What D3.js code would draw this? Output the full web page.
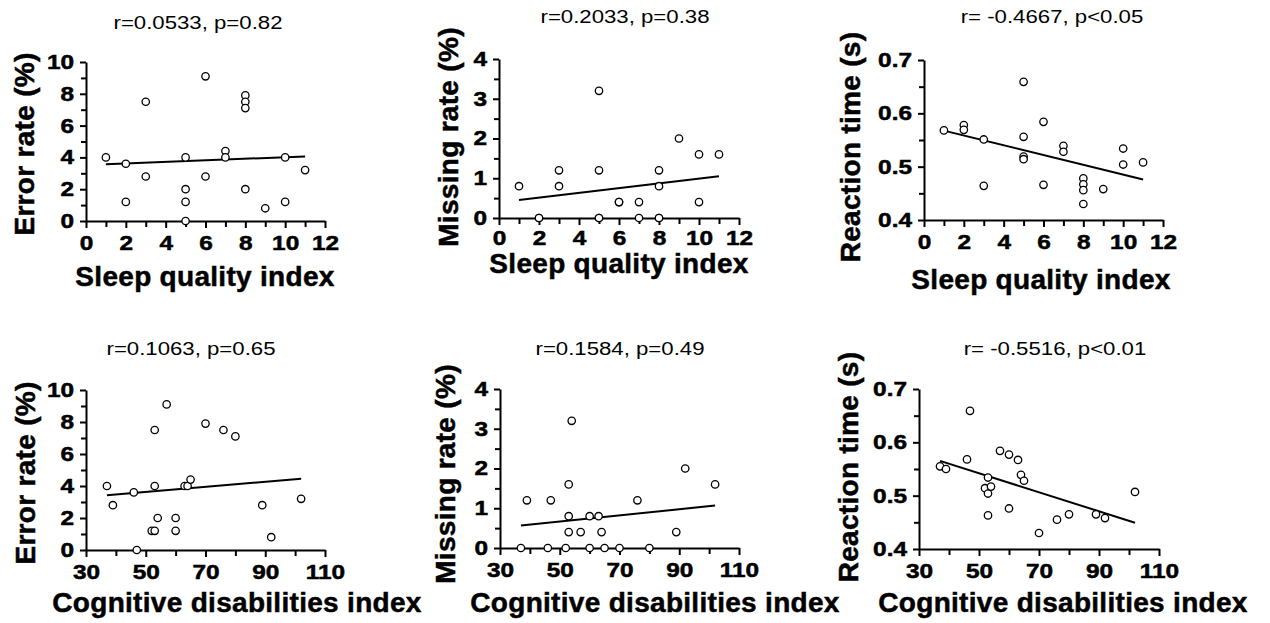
<!DOCTYPE html>
<html>
<head>
<meta charset="utf-8">
<script src="https://cdn.jsdelivr.net/npm/d3@7"></script>
<style>
  body { margin: 0; background: #fff; }
  text { font-family: Arial, "Liberation Sans", sans-serif; fill: #000; }
</style>
</head>
<body>
<div id="chart"></div>
<script>
var width = 1270;
var height = 623;

// subject scores, sorted by index
var sqiScores = [1, 2, 2, 3, 3, 5, 5, 5, 5, 6, 6, 7, 7, 8, 8, 8, 8, 9, 10, 10, 11];
var cdiScores = [37, 39, 46, 47, 52, 53, 53, 53, 54, 57, 60, 60, 63, 64, 65, 70, 76, 80, 89, 92, 102];

var sqiError = [4.0, 3.6, 1.2, 7.5, 2.8, 4.0, 2.0, 1.2, 0, 9.1, 2.8, 4.4, 4.0, 7.9, 7.5, 7.1, 2.0, 0.8, 4.0, 1.2, 3.2];
var sqiMissing = [0.8, 0, 0, 1.2, 0.8, 3.2, 1.2, 0, 0, 0.4, 0.4, 0.4, 0, 1.2, 0.8, 0, 0, 2.0, 1.6, 0.4, 1.6];
var sqiReaction = [0.568, 0.578, 0.569, 0.551, 0.464, 0.659, 0.556, 0.519, 0.514, 0.584, 0.466, 0.539, 0.528,
  0.478, 0.467, 0.456, 0.430, 0.458, 0.534, 0.504, 0.508];

var cdiError = [4.0, 2.8, 3.6, 0, 1.2, 1.2, 7.5, 4.0, 2.0, 9.1, 2.0, 1.2, 4.0, 4.0, 4.4, 7.9, 7.5, 7.1, 2.8, 0.8, 3.2];
var cdiMissing = [0, 1.2, 0, 1.2, 0, 1.6, 0.8, 0.4, 3.2, 0.4, 0.8, 0, 0.8, 0.4, 0, 0, 1.2, 0, 0.4, 2.0, 1.6];
var cdiReaction = [0.555, 0.550, 0.568, 0.659, 0.514, 0.534, 0.504, 0.463, 0.517, 0.584, 0.577, 0.476, 0.567,
  0.539, 0.528, 0.430, 0.455, 0.465, 0.465, 0.458, 0.507];

var titles = ['r=0.0533, p=0.82', 'r=0.2033, p=0.38', 'r= -0.4667, p<0.05',
  'r=0.1063, p=0.65', 'r=0.1584, p=0.49', 'r= -0.5516, p<0.01'];
var xTitles = ['Sleep quality index', 'Cognitive disabilities index'];
var yTitles = ['Error rate (%)', 'Missing rate (%)', 'Reaction time (s)'];

var sqiTicks = [0, 2, 4, 6, 8, 10, 12];
var cdiTicks = [30, 50, 70, 90, 110];
var errorTicks = [0, 2, 4, 6, 8, 10];
var missingTicks = [0, 1, 2, 3, 4];
var reactionTicks = [0.4, 0.5, 0.6, 0.7];

var panels = [
  { x: sqiScores, y: sqiError, xt: sqiTicks, yt: errorTicks, xStep: 1, yStep: 1, title: titles[0], xl: xTitles[0], yl: yTitles[0],
    box: [86, 325, 221, 62], pad: 8, tPos: [198, 29], xPos: [205, 286], yPos: [34, 144] },
  { x: sqiScores, y: sqiMissing, xt: sqiTicks, yt: missingTicks, xStep: 1, yStep: 0.5, title: titles[1], xl: xTitles[0], yl: yTitles[1],
    box: [499, 739, 218, 59], pad: 6, tPos: [625, 23], xPos: [619, 273], yPos: [458, 137] },
  { x: sqiScores, y: sqiReaction, xt: sqiTicks, yt: reactionTicks, xStep: 1, yStep: 0.05, title: titles[2], xl: xTitles[0], yl: yTitles[2],
    box: [924, 1163, 220, 60], pad: 8, tPos: [1052, 23], xPos: [1041, 289], yPos: [860, 147] },
  { x: cdiScores, y: cdiError, xt: cdiTicks, yt: errorTicks, xStep: 10, yStep: 1, title: titles[3], xl: xTitles[1], yl: yTitles[0],
    box: [86, 325, 550, 390], pad: 8, tPos: [191, 355], xPos: [237, 612], yPos: [35, 473] },
  { x: cdiScores, y: cdiMissing, xt: cdiTicks, yt: missingTicks, xStep: 10, yStep: 0.5, title: titles[4], xl: xTitles[1], yl: yTitles[1],
    box: [500, 739, 548, 389], pad: 8, tPos: [620, 355], xPos: [655, 612], yPos: [455, 474] },
  { x: cdiScores, y: cdiReaction, xt: cdiTicks, yt: reactionTicks, xStep: 10, yStep: 0.05, title: titles[5], xl: xTitles[1], yl: yTitles[2],
    box: [919, 1159, 549, 389], pad: 8, tPos: [1055, 355], xPos: [1063, 612], yPos: [858, 467] }
];

var svg = d3.select('#chart')
  .append('svg')
  .attr('width', width)
  .attr('height', height);

// least squares fit, returns [slope, intercept]
function fit(xs, ys) {
  var mx = d3.mean(xs), my = d3.mean(ys);
  var sxy = 0, sxx = 0;
  xs.forEach(function(x, i) {
    sxy += (x - mx) * (ys[i] - my);
    sxx += (x - mx) * (x - mx);
  });
  var b = sxy / sxx;
  return [b, my - b * mx];
}

function minorValues(ticks, step) {
  var out = [];
  var lo = ticks[0], hi = ticks[ticks.length - 1];
  for (var v = lo + step; v < hi - step / 2; v += 2 * step) out.push(+v.toFixed(4));
  return out;
}

panels.forEach(function(p) {
  var g = svg.append('g');
  var xs = d3.scaleLinear()
    .domain([p.xt[0], p.xt[p.xt.length - 1]])
    .range([p.box[0], p.box[1]]);
  var ys = d3.scaleLinear()
    .domain([p.yt[0], p.yt[p.yt.length - 1]])
    .range([p.box[2], p.box[3]]);

  // minor ticks
  g.append('g')
    .attr('class', 'minor')
    .attr('transform', 'translate(0,' + p.box[2] + ')')
    .call(d3.axisBottom(xs).tickValues(minorValues(p.xt, p.xStep)).tickSize(6).tickFormat(''));
  g.append('g')
    .attr('class', 'minor')
    .attr('transform', 'translate(' + p.box[0] + ',0)')
    .call(d3.axisLeft(ys).tickValues(minorValues(p.yt, p.yStep)).tickSize(5).tickFormat(''));

  var fmt = p.yt[1] < 1 ? d3.format('.1f') : d3.format('d');
  var xAxis = g.append('g')
    .attr('class', 'major')
    .attr('transform', 'translate(0,' + p.box[2] + ')')
    .call(d3.axisBottom(xs).tickValues(p.xt).tickSize(7).tickSizeOuter(0).tickPadding(p.pad).tickFormat(d3.format('d')));
  var yAxis = g.append('g')
    .attr('class', 'major')
    .attr('transform', 'translate(' + p.box[0] + ',0)')
    .call(d3.axisLeft(ys).tickValues(p.yt).tickSize(6).tickSizeOuter(0).tickPadding(4).tickFormat(fmt));

  g.selectAll('.minor .domain').remove();
  g.selectAll('.domain, .tick line')
    .attr('stroke', '#000')
    .attr('stroke-width', 2);
  g.selectAll('.major text')
    .attr('font-size', 20)
    .attr('font-weight', 'bold')
    .attr('fill', '#000')
    .attr('stroke', '#000')
    .attr('stroke-width', 0.5);
  // the original tick digits are drawn wide
  xAxis.selectAll('text').attr('transform', 'scale(1.22,1)');
  yAxis.selectAll('text').attr('transform', 'translate(-1,0) scale(1.22,1)').attr('x', -9);

  // regression line
  var f = fit(p.x, p.y);
  var ends = d3.extent(p.x);
  g.append('line')
    .attr('x1', xs(ends[0]))
    .attr('y1', ys(f[1] + f[0] * ends[0]))
    .attr('x2', xs(ends[1]))
    .attr('y2', ys(f[1] + f[0] * ends[1]))
    .attr('stroke', '#000')
    .attr('stroke-width', 2);

  g.selectAll('circle')
    .data(p.x)
    .enter()
    .append('circle')
    .attr('cx', function(d) { return xs(d); })
    .attr('cy', function(d, i) { return ys(p.y[i]); })
    .attr('r', 3.7)
    .attr('fill', '#fff')
    .attr('stroke', '#000')
    .attr('stroke-width', 1.3);

  g.append('text')
    .attr('transform', 'translate(' + p.tPos[0] + ',' + p.tPos[1] + ') scale(1.2,1)')
    .attr('text-anchor', 'middle')
    .style('font-size', '18.5px')
    .text(p.title);

  g.append('text')
    .attr('x', p.xPos[0])
    .attr('y', p.xPos[1])
    .attr('text-anchor', 'middle')
    .style('font-size', '28px')
    .style('font-weight', 'bold')
    .style('letter-spacing', '0.3px')
    .attr('stroke', '#000')
    .attr('stroke-width', 0.5)
    .text(p.xl);

  g.append('text')
    .attr('transform', 'translate(' + p.yPos[0] + ',' + p.yPos[1] + ') rotate(-90)')
    .attr('text-anchor', 'middle')
    .style('font-size', '28px')
    .style('font-weight', 'bold')
    .style('letter-spacing', '0.3px')
    .attr('stroke', '#000')
    .attr('stroke-width', 0.5)
    .text(p.yl);
});
</script>
</body>
</html>
